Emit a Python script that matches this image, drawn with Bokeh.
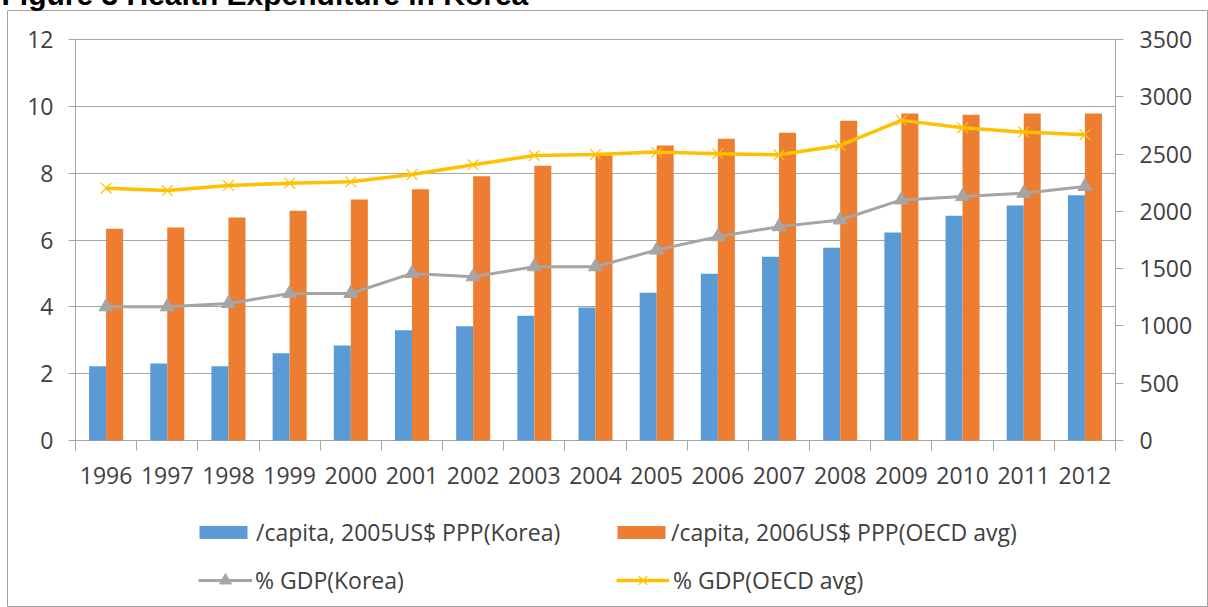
from bokeh.plotting import figure
from bokeh.models import Range1d, LinearAxis, FixedTicker, Legend, LegendItem
from bokeh.embed import file_html
from bokeh.resources import INLINE
import numpy as np

years = ["1996", "1997", "1998", "1999", "2000", "2001", "2002", "2003", "2004",
         "2005", "2006", "2007", "2008", "2009", "2010", "2011", "2012"]
korea_per_capita = [648, 672, 648, 762, 829, 963, 998, 1088, 1161, 1289, 1455, 1603,
                    1682, 1815, 1961, 2051, 2141]
oecd_per_capita = [1848, 1859, 1946, 2005, 2103, 2193, 2307, 2397, 2488, 2575, 2633, 2686,
                   2790, 2854, 2843, 2854, 2854]
korea_gdp = [4.0, 4.0, 4.1, 4.4, 4.4, 5.0, 4.9, 5.2, 5.2, 5.7, 6.1, 6.4, 6.6, 7.2, 7.3, 7.4, 7.6]
oecd_gdp = [7.55, 7.48, 7.63, 7.70, 7.74, 7.96, 8.25, 8.53, 8.56, 8.63, 8.58, 8.55, 8.83,
            9.58, 9.36, 9.23, 9.15]
left_ticks = [0, 2, 4, 6, 8, 10, 12]
right_ticks = [0, 500, 1000, 1500, 2000, 2500, 3000, 3500]

title_text = "Figure 3 Health Expenditure in Korea"
labels = ["/capita, 2005US$ PPP(Korea)", "/capita, 2006US$ PPP(OECD avg)",
          "% GDP(Korea)", "% GDP(OECD avg)"]

BLUE, ORANGE, GRAY, YELLOW = "#5b9bd5", "#ed7d31", "#a5a5a5", "#ffc000"
AXIS = "#a6a6a6"
TEXT = "#404040"
FONT = "Open Sans"
FS = "23px"

# page-pixel layout of the chart box (frame) and of the plotting area inside it
BOX_L, BOX_T, BOX_R, BOX_B = 7, 10, 1208, 607
PL, PR, PT, PB = 75, 1115, 39, 440
TOP_SPACE = 40

n = len(years)
xs = np.arange(n)
px_x = (PR - PL) / n
px_y = (PB - PT) / left_ticks[-1]
px_r = (PB - PT) / right_ticks[-1]

x_range = Range1d(-0.5 - (PL - BOX_L) / px_x, n - 0.5 + (BOX_R - PR) / px_x)
y_range = Range1d(-(BOX_B - PB) / px_y, left_ticks[-1] + (PT - BOX_T) / px_y)
r_range = Range1d(-(BOX_B - PB) / px_r, right_ticks[-1] + (PT - BOX_T) / px_r)

p = figure(frame_width=BOX_R - BOX_L, frame_height=BOX_B - BOX_T,
           x_range=x_range, y_range=y_range, output_backend="svg", toolbar_location=None,
           min_border_left=BOX_L, min_border_right=0, min_border_top=TOP_SPACE,
           min_border_bottom=0, margin=(BOX_T - TOP_SPACE, 0, 0, 0))
p.extra_y_ranges = {"right": r_range}
p.outline_line_color = "#a0a0a0"
p.outline_line_width = 1
p.background_fill_color = "white"
p.border_fill_color = "white"
p.xgrid.visible = False
p.ygrid.visible = False

# title (its top is cut by the page edge, as in the reference)
p.title.text = title_text
p.title.align = "left"
p.title.text_font = "Liberation Sans"
p.title.text_font_style = "bold"
p.title.text_font_size = "30px"
p.title.text_color = "#000000"
p.title.standoff = 0
p.title.offset = -6

# left axis: its inward ticks act as the horizontal grid lines
ya = p.yaxis[0]
ya.fixed_location = -0.5
ya.bounds = (left_ticks[0], left_ticks[-1])
ya.ticker = FixedTicker(ticks=left_ticks)
ya.axis_line_color = AXIS
ya.major_tick_line_color = AXIS
ya.major_tick_out = 7
ya.major_tick_in = PR - PL
ya.minor_tick_line_color = None
ya.major_label_text_font = FONT
ya.major_label_text_font_size = FS
ya.major_label_text_color = TEXT
ya.major_label_standoff = 15
ya.level = "underlay"

# right axis
ra = LinearAxis(y_range_name="right", ticker=FixedTicker(ticks=right_ticks))
ra.fixed_location = n - 0.5
ra.bounds = (right_ticks[0], right_ticks[-1])
ra.axis_line_color = AXIS
ra.major_tick_line_color = AXIS
ra.major_tick_out = 8
ra.major_tick_in = 0
ra.minor_tick_line_color = None
ra.major_label_text_font = FONT
ra.major_label_text_font_size = FS
ra.major_label_text_color = TEXT
ra.major_label_standoff = 16
ra.level = "underlay"
p.add_layout(ra, "right")

# bottom axis: labels at category centres, ticks at category boundaries
xa = p.xaxis[0]
xa.fixed_location = 0
xa.bounds = (-0.5, n - 0.5)
xa.ticker = FixedTicker(ticks=list(xs), minor_ticks=[i - 0.5 for i in range(n + 1)])
xa.major_label_overrides = {int(i): y for i, y in zip(xs, years)}
xa.axis_line_color = AXIS
xa.major_tick_line_color = None
xa.major_tick_out = 0
xa.major_tick_in = 0
xa.minor_tick_line_color = AXIS
xa.minor_tick_out = 10
xa.minor_tick_in = 0
xa.major_label_text_font = FONT
xa.major_label_text_font_size = FS
xa.major_label_text_color = TEXT
xa.major_label_standoff = 16
xa.level = "underlay"

bw = 0.278
r_blue = p.vbar(x=xs - bw / 2, top=korea_per_capita, width=bw, y_range_name="right",
                fill_color=BLUE, line_color=None)
r_orange = p.vbar(x=xs + bw / 2, top=oecd_per_capita, width=bw, y_range_name="right",
                  fill_color=ORANGE, line_color=None)

r_gl = p.line(xs, korea_gdp, line_color=GRAY, line_width=3)
r_gm = p.scatter(xs, korea_gdp, marker="triangle", size=14, fill_color=GRAY, line_color=GRAY)
r_yl = p.line(xs, oecd_gdp, line_color=YELLOW, line_width=3.5)
r_ym = p.scatter(xs, oecd_gdp, marker="x", size=15, line_color=YELLOW, line_width=1.2)


def make_legend(label, renderers, left, center_y, gw, gh, standoff):
    leg = Legend(items=[LegendItem(label=label, renderers=renderers)],
                 location=(left - BOX_L, BOX_B - (center_y + 15.7)),
                 glyph_width=gw, glyph_height=gh, label_standoff=standoff,
                 padding=0, margin=0, spacing=0, border_line_color=None,
                 background_fill_alpha=0, label_text_font=FONT, label_text_font_size=FS,
                 label_text_color=TEXT)
    p.add_layout(leg, "center")


make_legend(labels[0], [r_blue], 193, 532, 60, 16, 3)
make_legend(labels[1], [r_orange], 611, 532, 60, 16, 0)
make_legend(labels[2], [r_gl, r_gm], 198, 580, 54, 30, 3)
make_legend(labels[3], [r_yl, r_ym], 616, 580, 53, 30, 4)

open("out.html", "w").write(file_html(p, INLINE))
